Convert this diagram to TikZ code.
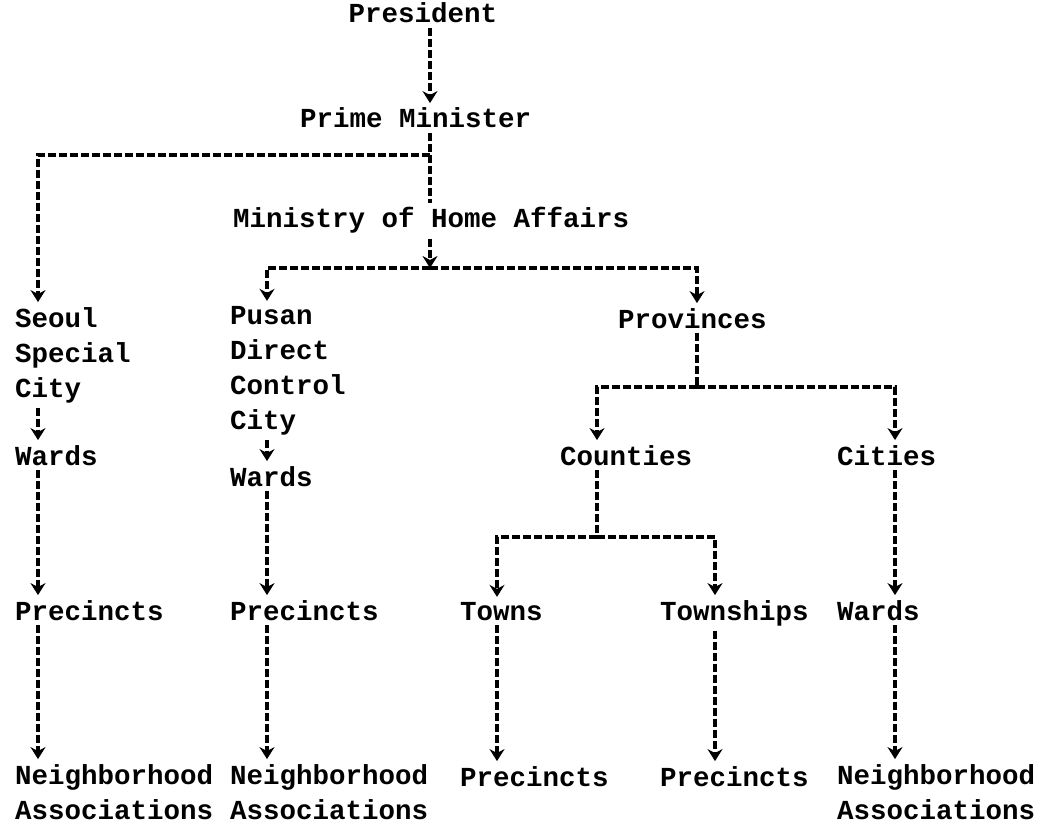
\documentclass[tikz,border=0pt]{standalone}
\usepackage{fontspec}
\setmainfont{Liberation Mono}
\usetikzlibrary{arrows.meta}
\tikzstyle{lbl} = [inner sep=0pt, outer sep=5pt, anchor=base west, align=left, font=\fontsize{27.5}{35}\selectfont\bfseries]
\tikzstyle{link} = [dash pattern=on 8pt off 3pt, line width=3.2pt]
\tikzstyle{arrow} = [link, -{Stealth[length=12pt,width=15pt,inset=4pt]}]

\begin{document}
\begin{tikzpicture}[x=1pt, y=-1pt]
    \useasboundingbox (0,0) rectangle (1056,826);

    % columns
    \coordinate (spine)  at (430,0);
    \coordinate (seoulx) at (38,0);
    \coordinate (pusanx) at (267,0);
    \coordinate (townx)  at (497,0);
    \coordinate (twpx)   at (715,0);
    \coordinate (cityx)  at (895,0);

    % multi-line labels sit on the baseline of their last line
    \node (pres)  [lbl, anchor=base] at (423,23)  {President};
    \node (pm)    [lbl] at (295,128) {Prime Minister};
    \node (mha)   [lbl] at (228,228) {Ministry of Home Affairs};

    \node (seoul) [lbl] at (10,397)  {Seoul\\Special\\City};
    \node (pusan) [lbl] at (225,429) {Pusan\\Direct\\Control\\City};
    \node (prov)  [lbl] at (613,328) {Provinces};

    \node (sward)  [lbl] at (10,465)  {Wards};
    \node (pward)  [lbl] at (225,486) {Wards};
    \node (county) [lbl] at (555,465) {Counties};
    \node (cities) [lbl] at (832,465) {Cities};

    \node (sprec) [lbl] at (10,620)  {Precincts};
    \node (pprec) [lbl] at (225,620) {Precincts};
    \node (towns) [lbl] at (455,620) {Towns};
    \node (twps)  [lbl] at (655,620) {Townships};
    \node (cward) [lbl] at (832,620) {Wards};

    \node (sna)    [lbl] at (10,819)  {Neighborhood\\Associations};
    \node (pna)    [lbl] at (225,819) {Neighborhood\\Associations};
    \node (tprec)  [lbl] at (455,786) {Precincts};
    \node (twprec) [lbl] at (655,786) {Precincts};
    \node (cna)    [lbl] at (832,819) {Neighborhood\\Associations};

    \coordinate (jseoul) at (430,155);
    \coordinate (bar1)   at (430,268);
    \coordinate (bar2)   at (697,387);
    \coordinate (bar3)   at (597,537);

    \draw [arrow] (pres.south -| spine) -- (pm.north -| spine);
    \draw [link]  (pm.south -| spine)   -- (mha.north -| spine);
    \draw [arrow] (jseoul) -| (seoul.north -| seoulx);
    \draw [arrow] (mha.south -| spine)  -- (bar1);
    \draw [arrow] (bar1) -| (pusan.north -| pusanx);
    \draw [arrow] (bar1) -| (prov.north -| bar2);

    \draw [arrow] (seoul.south -| seoulx) -- (sward.north -| seoulx);
    \draw [arrow] (sward.south -| seoulx) -- (sprec.north -| seoulx);
    \draw [arrow] (sprec.south -| seoulx) -- (sna.north -| seoulx);

    \draw [arrow] (pusan.south -| pusanx) -- (pward.north -| pusanx);
    \draw [arrow] (pward.south -| pusanx) -- (pprec.north -| pusanx);
    \draw [arrow] (pprec.south -| pusanx) -- (pna.north -| pusanx);

    \draw [link]  (prov.south -| bar2) -- (bar2);
    \draw [arrow] (bar2) -| (county.north -| bar3);
    \draw [arrow] (bar2) -| (cities.north -| cityx);

    \draw [link]  (county.south -| bar3) -- (bar3);
    \draw [arrow] (bar3) -| (towns.north -| townx);
    \draw [arrow] (bar3) -| (twps.north -| twpx);

    \draw [arrow] (towns.south -| townx) -- (tprec.north -| townx);
    \draw [arrow] (twps.south -| twpx)   -- (twprec.north -| twpx);

    \draw [arrow] (cities.south -| cityx) -- (cward.north -| cityx);
    \draw [arrow] (cward.south -| cityx)  -- (cna.north -| cityx);
\end{tikzpicture}
\end{document}
